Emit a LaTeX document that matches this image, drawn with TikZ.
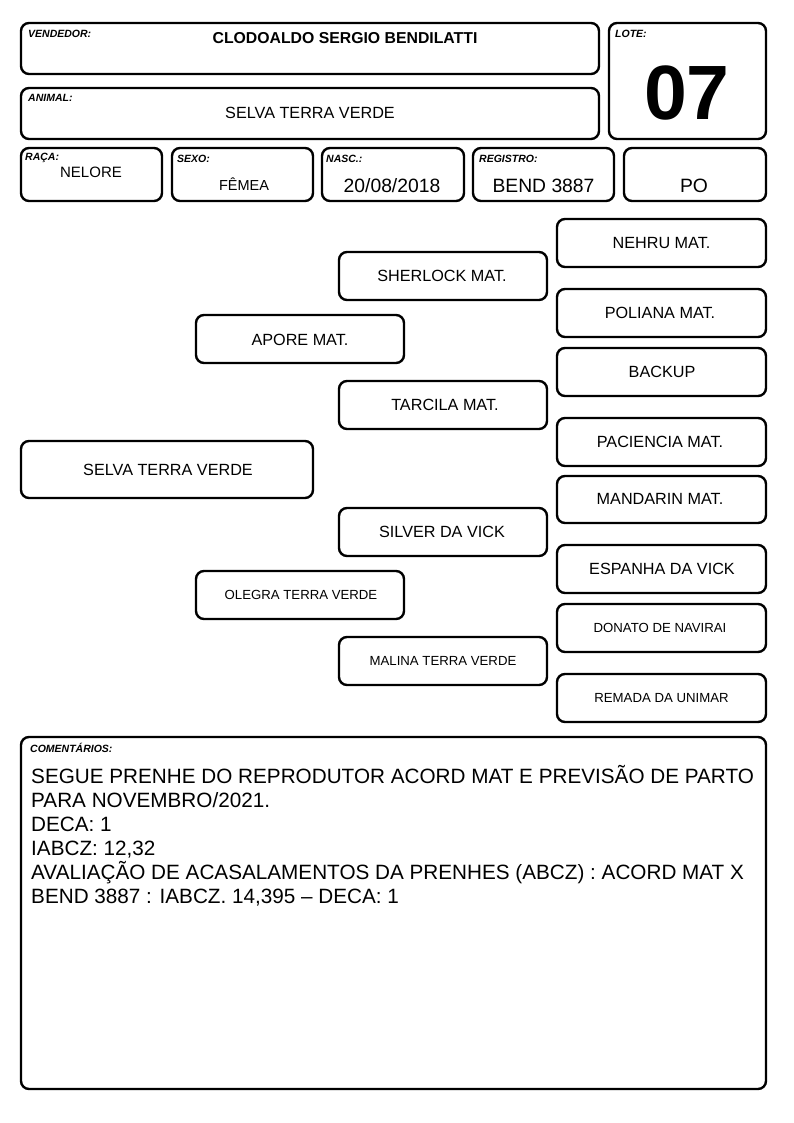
\documentclass[tikz,border=0pt]{standalone}
\usepackage{fontspec}
\setmainfont{Liberation Sans}
\begin{document}
\begin{tikzpicture}[x=1pt,y=-1pt,
  box/.style={draw=black,line width=2.4pt,rounded corners=8pt},
  lab/.style={anchor=north west,inner sep=0pt,font=\fontsize{10.5}{12}\selectfont\bfseries\itshape},
  val/.style={inner sep=0pt,font=\fontsize{16.2}{18}\selectfont},
  big/.style={inner sep=0pt,font=\fontsize{19.3}{21}\selectfont},
  ped/.style={inner sep=0pt,font=\fontsize{16.2}{18}\selectfont},
  peds/.style={inner sep=0pt,font=\fontsize{13.2}{15}\selectfont}]
\useasboundingbox (0,0) rectangle (794,1123);
% header boxes
\draw[box] (21,23) rectangle (599,74);
\draw[box] (21,88) rectangle (599,139);
\draw[box] (609,23) rectangle (766,139);
\draw[box] (21,148) rectangle (162,201);
\draw[box] (172,148) rectangle (313,201);
\draw[box] (322,148) rectangle (464,201);
\draw[box] (473,148) rectangle (614,201);
\draw[box] (624,148) rectangle (766,201);
\node[lab] (lv) at (28,30) {VENDEDOR:};
\node[inner sep=0pt,font=\fontsize{15.8}{17}\selectfont\bfseries] (vend) at (345,38) {CLODOALDO SERGIO BENDILATTI};
\node[lab] (la) at (28,94) {ANIMAL:};
\node[val] (anim) at (310,113) {SELVA TERRA VERDE};
\node[lab] (ll) at (615,30) {LOTE:};
\node[inner sep=0pt,font=\fontsize{77}{80}\selectfont\bfseries] (lote) at (687,93) {07};
\node[lab] (lr) at (25,153) {RAÇA:};
\node[inner sep=0pt,font=\fontsize{15}{17}\selectfont] (raca) at (91,172) {NELORE};
\node[lab] (ls) at (177,155) {SEXO:};
\node[inner sep=0pt,font=\fontsize{14.5}{17}\selectfont] (sexo) at (244,184) {FÊMEA};
\node[lab] (ln) at (326,155) {NASC.:};
\node[big] (nasc) at (392,186) {20/08/2018};
\node[lab] (lg) at (479,155) {REGISTRO:};
\node[big] (reg) at (543.5,186) {BEND 3887};
\node[big] (po) at (694,186) {PO};
% pedigree
\draw[box] (557,219) rectangle (766,267);
\node[ped] (p1) at (661.5,243) {NEHRU MAT.};
\draw[box] (339,252) rectangle (547,300);
\node[ped] (p2) at (442,276) {SHERLOCK MAT.};
\draw[box] (557,289) rectangle (766,337);
\node[ped] (p3) at (660,313) {POLIANA MAT.};
\draw[box] (196,315) rectangle (404,363);
\node[ped] (p4) at (300,340) {APORE MAT.};
\draw[box] (557,348) rectangle (766,396);
\node[ped] (p5) at (662,372) {BACKUP};
\draw[box] (339,381) rectangle (547,429);
\node[ped] (p6) at (445,405) {TARCILA MAT.};
\draw[box] (557,418) rectangle (766,466);
\node[ped] (p7) at (660,442) {PACIENCIA MAT.};
\draw[box] (21,441) rectangle (313,498);
\node[ped] (p8) at (168,470) {SELVA TERRA VERDE};
\draw[box] (557,476) rectangle (766,523);
\node[ped] (p9) at (660,499) {MANDARIN MAT.};
\draw[box] (339,508) rectangle (547,556);
\node[ped] (p10) at (442,532) {SILVER DA VICK};
\draw[box] (557,545) rectangle (766,593);
\node[ped] (p11) at (662,569) {ESPANHA DA VICK};
\draw[box] (196,571) rectangle (404,619);
\node[peds] (p12) at (301,595) {OLEGRA TERRA VERDE};
\draw[box] (557,604) rectangle (766,652);
\node[peds] (p13) at (660,628) {DONATO DE NAVIRAI};
\draw[box] (339,637) rectangle (547,685);
\node[peds] (p14) at (443,661) {MALINA TERRA VERDE};
\draw[box] (557,674) rectangle (766,722);
\node[peds] (p15) at (661.5,698) {REMADA DA UNIMAR};
% comments
\draw[box] (21,737) rectangle (766,1089);
\node[lab] (lc) at (30,743) {COMENTÁRIOS:};
\node[anchor=north west,inner sep=0pt,align=left,font=\fontsize{20.7}{24}\selectfont] (com) at (31,765)
{SEGUE PRENHE DO REPRODUTOR ACORD MAT E PREVISÃO DE PARTO\\
PARA NOVEMBRO/2021.\\
DECA: 1\\
IABCZ: 12,32\\
AVALIAÇÃO DE ACASALAMENTOS DA PRENHES (ABCZ) : ACORD MAT X\\
BEND 3887 : IABCZ. 14,395 -- DECA: 1};
\end{tikzpicture}
\end{document}
